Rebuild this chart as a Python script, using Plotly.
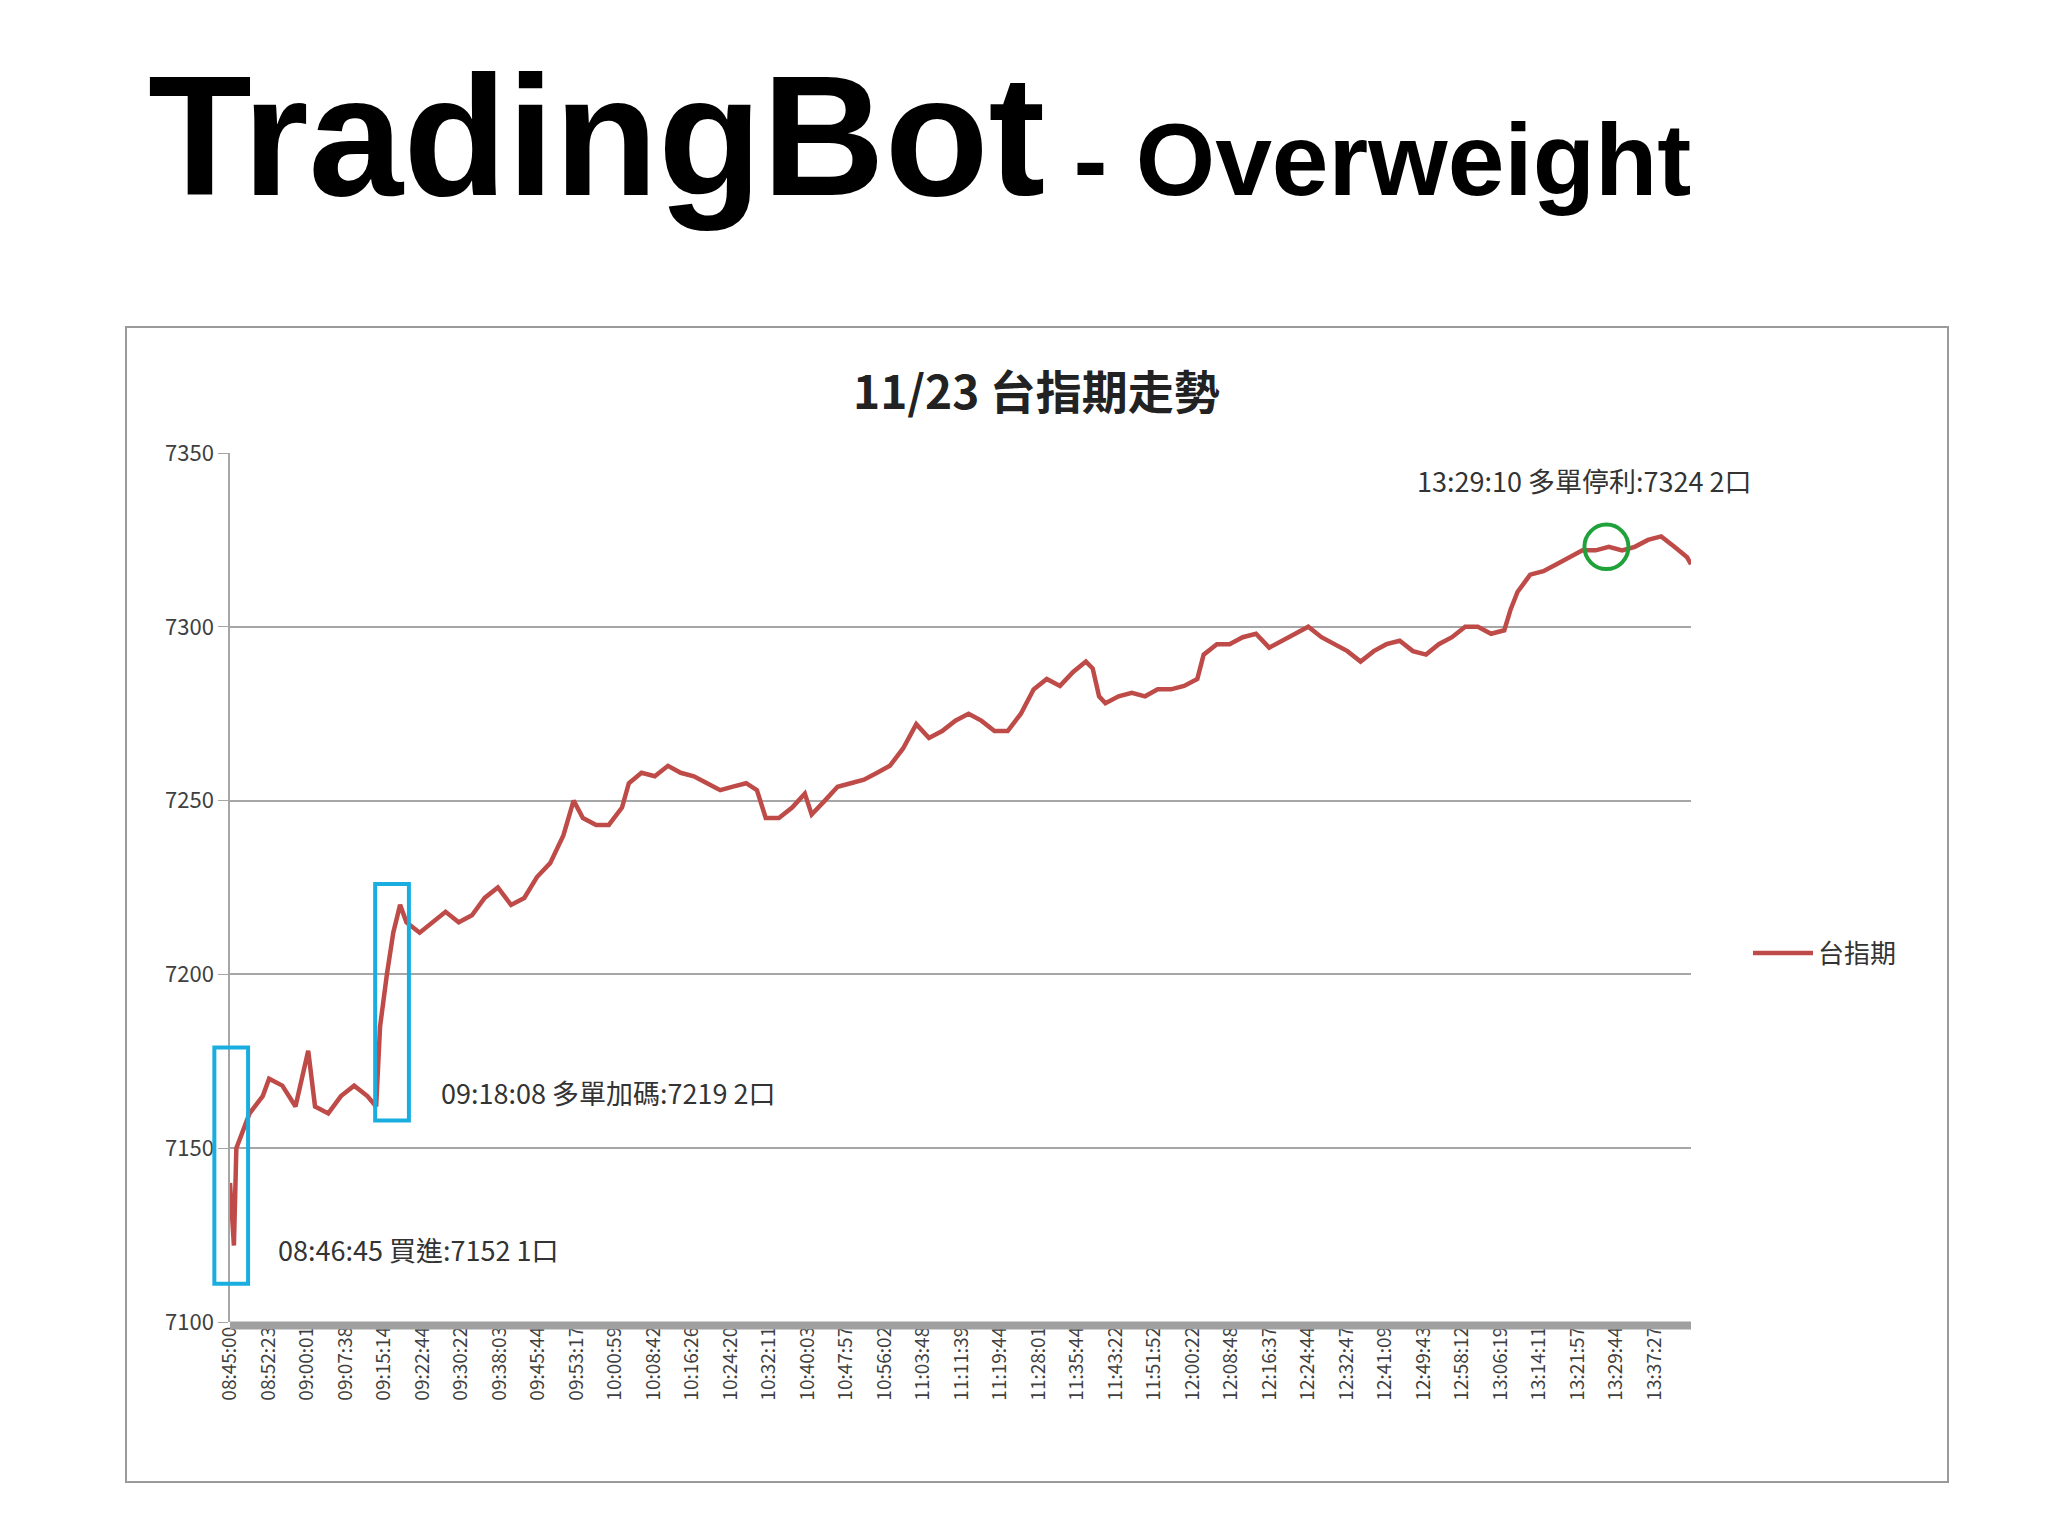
import plotly.graph_objects as go

minutes = [0,0.8,1.3,2.7,4.0,6.7,8.0,10.7,13.4,16.0,17.4,20.1,22.7,25.4,28.1,29.9,30.7,32.1,33.4,34.8,36.1,38.8,41.4,44.1,46.8,49.5,52.1,54.8,57.5,60.2,62.8,65.5,68.2,70.3,72.2,74.9,77.5,80.2,81.6,84.2,86.9,89.6,92.2,94.9,97.6,100.3,102.9,105.6,107.8,109.6,112.3,115.0,117.6,119.0,121.7,124.3,127.0,129.7,132.4,135.0,137.7,140.4,143.0,145.7,148.4,151.1,153.7,156.4,159.1,161.8,164.4,167.1,169.8,172.5,175.1,176.5,177.8,179.1,181.8,184.5,187.2,189.8,192.5,195.2,197.9,199.2,201.9,204.5,207.2,209.9,212.6,215.2,217.9,220.6,223.3,225.9,228.6,231.3,234.0,236.6,239.3,242.0,244.7,247.3,250.0,252.7,255.3,258.0,260.7,262.0,263.4,266.0,268.7,271.4,274.1,276.7,279.4,282.1,284.8,287.4,290.1,292.8,295.5,298.1,298.9]
prices = [7140,7122,7150,7155,7160,7165,7170,7168,7162,7178,7162,7160,7165,7168,7165,7162,7185,7200,7212,7220,7215,7212,7215,7218,7215,7217,7222,7225,7220,7222,7228,7232,7240,7250,7245,7243,7243,7248,7255,7258,7257,7260,7258,7257,7255,7253,7254,7255,7253,7245,7245,7248,7252,7246,7250,7254,7255,7256,7258,7260,7265,7272,7268,7270,7273,7275,7273,7270,7270,7275,7282,7285,7283,7287,7290,7288,7280,7278,7280,7281,7280,7282,7282,7283,7285,7292,7295,7295,7297,7298,7294,7296,7298,7300,7297,7295,7293,7290,7293,7295,7296,7293,7292,7295,7297,7300,7300,7298,7299,7305,7310,7315,7316,7318,7320,7322,7322,7323,7322,7323,7325,7326,7323,7320,7318]
tick_labels = ["08:45:00","08:52:23","09:00:01","09:07:38","09:15:14","09:22:44","09:30:22","09:38:03","09:45:44","09:53:17","10:00:59","10:08:42","10:16:26","10:24:20","10:32:11","10:40:03","10:47:57","10:56:02","11:03:48","11:11:39","11:19:44","11:28:01","11:35:44","11:43:22","11:51:52","12:00:22","12:08:48","12:16:37","12:24:44","12:32:47","12:41:09","12:49:43","12:58:12","13:06:19","13:14:11","13:21:57","13:29:44","13:37:27"]
series_name = "台指期"
notes = ["08:46:45 買進:7152 1口", "09:18:08 多單加碼:7219 2口", "13:29:10 多單停利:7324 2口"]

TICK_STEP = 7.877
XMAX = 298.9
CJK = "Noto Sans CJK TC"
RED = "#BE4B48"
L, R, T, B = 222, 365, 445, 222
PW = 2048 - L - R
PH = 1536 - T - B

def px_x(p):
    return (p - L) / PW

def px_y(p):
    return (1536 - B - p) / PH

fig = go.Figure(go.Scatter(x=minutes, y=prices, mode="lines", name=series_name,
                           line=dict(color=RED, width=4.5)))

fig.update_layout(
    width=2048, height=1536, paper_bgcolor="white", plot_bgcolor="white",
    margin=dict(l=L, r=R, t=T, b=B),
    font=dict(family=CJK, color="#404040"),
    legend=dict(x=px_x(1740), y=px_y(945), xanchor="left", yanchor="middle",
                font=dict(size=26, family=CJK, color="#333"), itemwidth=60),
    showlegend=True,
)
fig.update_xaxes(range=[0, XMAX], tickvals=[i * TICK_STEP for i in range(len(tick_labels))],
                 ticktext=tick_labels, tickangle=-90, tickfont=dict(size=19, color="#404040"),
                 showgrid=False, showline=False, ticks="")
fig.update_yaxes(range=[7100, 7350], dtick=50, showgrid=True, gridcolor="#A6A6A6", gridwidth=1.5,
                 tickfont=dict(size=22, color="#404040"), ticks="outside", ticklen=10,
                 tickcolor="#A6A6A6", showline=True, linecolor="#A6A6A6", linewidth=1.5,
                 zeroline=False)

shapes = [
    dict(type="rect", xref="paper", yref="paper", x0=px_x(118), x1=px_x(1940), y0=px_y(1474), y1=px_y(319),
         line=dict(color="#9A9A9A", width=2), layer="below"),
    dict(type="line", xref="paper", yref="paper", x0=0, x1=1, y0=-0.004, y1=-0.004,
         line=dict(color="#A0A0A0", width=8)),
    dict(type="rect", xref="paper", yref="y", x0=-3.2 / XMAX, x1=3.7 / XMAX, y0=7111, y1=7179,
         line=dict(color="#1AAEE0", width=4)),
    dict(type="rect", xref="x", yref="y", x0=29.7, x1=36.6, y0=7158, y1=7226,
         line=dict(color="#1AAEE0", width=4)),
    dict(type="circle", xref="x", yref="y", x0=277.1, x1=286.1, y0=7316.6, y1=7329.4,
         line=dict(color="#1FA23A", width=4)),
]
fig.update_layout(shapes=shapes)

ann = [
    dict(xref="paper", yref="paper", x=px_x(138), y=px_y(225), xanchor="left", yanchor="bottom",
         showarrow=False,
         text="<b>TradingBot</b><span style='font-size:102px'><b> - Overweight</b></span>",
         font=dict(size=170, family="Liberation Sans", color="black")),
    dict(xref="paper", yref="paper", x=px_x(1028), y=px_y(381), xanchor="center", yanchor="middle",
         showarrow=False, text="<b>11/23 台指期走勢</b>", font=dict(size=46, family=CJK, color="#222")),
    dict(xref="x", yref="y", x=9.4, y=7121, xanchor="left", yanchor="middle", showarrow=False,
         text=notes[0], font=dict(size=27, family=CJK, color="#333")),
    dict(xref="x", yref="y", x=42.8, y=7166, xanchor="left", yanchor="middle", showarrow=False,
         text=notes[1], font=dict(size=27, family=CJK, color="#333")),
    dict(xref="x", yref="y", x=242.5, y=7342, xanchor="left", yanchor="middle", showarrow=False,
         text=notes[2], font=dict(size=27, family=CJK, color="#333")),
]
fig.update_layout(annotations=ann)

fig.write_html("out.html")
